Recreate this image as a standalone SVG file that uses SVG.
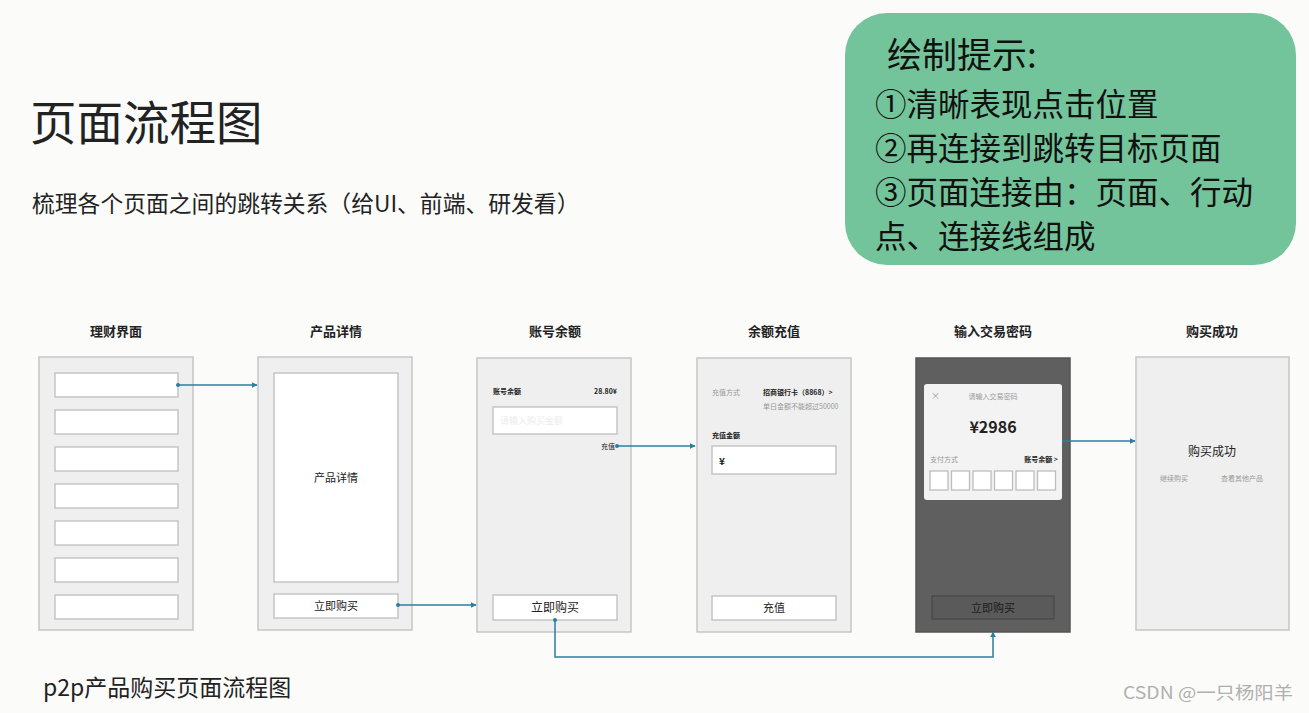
<svg xmlns="http://www.w3.org/2000/svg" width="1309" height="713" viewBox="0 0 1309 713">
<style>
text{font-family:"Noto Sans CJK SC","Liberation Sans",sans-serif;fill:#222}
.phone{fill:#efefef;stroke:#c6c6c6;stroke-width:1.5}
.box{fill:#fff;stroke:#bdbdbd;stroke-width:1.3}
.lbl{font-size:13px;font-weight:bold;text-anchor:middle}
.tiny{font-size:7px}
text.gray{fill:#999}
.conn{fill:none;stroke:#2a7fa0;stroke-width:1.5}
text.tip{font-size:31.5px;fill:#111}
text.faint{fill:#ececec}
text.wm{fill:#b0b0b0}
text.dk{fill:#1a1a1a}
</style>
<defs>
<marker id="ah" viewBox="0 0 10 10" refX="9" refY="5" markerWidth="6" markerHeight="6" orient="auto" markerUnits="userSpaceOnUse">
<path d="M0,0 L10,5 L0,10 z" fill="#2a7fa0"/>
</marker>
<marker id="dot" viewBox="0 0 4 4" refX="2" refY="2" markerWidth="4" markerHeight="4" markerUnits="userSpaceOnUse">
<circle cx="2" cy="2" r="2" fill="#2a7fa0"/>
</marker>
</defs>
<rect width="1309" height="713" fill="#fbfbfa"/>

<g id="title">
<text x="30" y="140" font-size="46.5">页面流程图</text>
<text x="32" y="212" font-size="22.8">梳理各个页面之间的跳转关系（给UI、前端、研发看）</text>
</g>

<g id="tips">
<rect x="845" y="13" width="451" height="252" rx="42" fill="#73c49b"/>
<text class="tip" x="887" y="68" style="font-size:35px">绘制提示:</text>
<text class="tip" x="875" y="116">①清晰表现点击位置</text>
<text class="tip" x="875" y="160">②再连接到跳转目标页面</text>
<text class="tip" x="875" y="204">③页面连接由：页面、行动</text>
<text class="tip" x="875" y="248">点、连接线组成</text>
</g>

<g id="page1">
<text class="lbl" x="116" y="336">理财界面</text>
<rect class="phone" x="39" y="357" width="154" height="273"/>
<rect class="box" x="55" y="373" width="123" height="24"/>
<rect class="box" x="55" y="410" width="123" height="24"/>
<rect class="box" x="55" y="447" width="123" height="24"/>
<rect class="box" x="55" y="484" width="123" height="24"/>
<rect class="box" x="55" y="521" width="123" height="24"/>
<rect class="box" x="55" y="558" width="123" height="24"/>
<rect class="box" x="55" y="595" width="123" height="24"/>
</g>

<g id="page2">
<text class="lbl" x="336" y="336">产品详情</text>
<rect class="phone" x="258" y="357" width="154" height="273"/>
<rect class="box" x="274" y="373" width="124" height="209"/>
<text x="336" y="482" font-size="11" text-anchor="middle">产品详情</text>
<rect class="box" x="274" y="594" width="124" height="24"/>
<text x="336" y="610" font-size="11" text-anchor="middle">立即购买</text>
</g>

<g id="page3">
<text class="lbl" x="555" y="336">账号余额</text>
<rect class="phone" x="477" y="358" width="154" height="274"/>
<text class="tiny" x="493" y="394" font-weight="bold">账号余额</text>
<text class="tiny" x="617" y="394" font-weight="bold" text-anchor="end">28.80¥</text>
<rect class="box" x="493" y="407" width="124" height="27"/>
<text class="faint" x="500" y="424" font-size="9">请输入购买金额</text>
<text class="tiny" x="615" y="449" text-anchor="end">充值</text>
<rect class="box" x="493" y="595" width="124" height="25"/>
<text x="555" y="612" font-size="12" text-anchor="middle">立即购买</text>
</g>

<g id="page4">
<text class="lbl" x="774" y="336">余额充值</text>
<rect class="phone" x="697" y="358" width="154" height="274"/>
<text class="tiny gray" x="712" y="395">充值方式</text>
<text class="tiny" x="763" y="395" font-weight="bold">招商银行卡（8868）&gt;</text>
<text class="tiny gray" x="763" y="409" font-size="6.5">单日金额不能超过50000</text>
<text class="tiny" x="712" y="438" font-weight="bold">充值金额</text>
<rect class="box" x="712" y="446" width="124" height="28"/>
<text x="719" y="465" font-size="10" font-weight="bold">¥</text>
<rect class="box" x="712" y="596" width="124" height="24"/>
<text x="774" y="612" font-size="11" text-anchor="middle">充值</text>
</g>

<g id="page5">
<text class="lbl" x="993" y="336">输入交易密码</text>
<rect x="916" y="358" width="154" height="274" fill="#5f5f5f" stroke="#555" stroke-width="1.5"/>
<rect x="924" y="384" width="138" height="116" rx="3" fill="#f3f3f3"/>
<text class="gray" x="931" y="399" font-size="9">×</text>
<text class="tiny gray" x="993" y="399" text-anchor="middle">请输入交易密码</text>
<text x="993" y="433" font-size="16" font-weight="bold" text-anchor="middle">¥2986</text>
<text class="tiny gray" x="930" y="462">支付方式</text>
<text class="tiny" x="1058" y="462" font-weight="bold" text-anchor="end">账号余额 &gt;</text>
<rect class="box" x="930" y="471" width="18" height="19"/>
<rect class="box" x="951.5" y="471" width="18" height="19"/>
<rect class="box" x="973" y="471" width="18" height="19"/>
<rect class="box" x="994.5" y="471" width="18" height="19"/>
<rect class="box" x="1016" y="471" width="18" height="19"/>
<rect class="box" x="1037.5" y="471" width="18" height="19"/>
<rect x="932" y="596" width="122" height="23" fill="#5a5a5a" stroke="#474747" stroke-width="1.2"/>
<text class="dk" x="993" y="612" font-size="11" text-anchor="middle">立即购买</text>
</g>

<g id="page6">
<text class="lbl" x="1212" y="336">购买成功</text>
<rect class="phone" x="1136" y="357" width="153" height="273"/>
<text x="1212" y="456" font-size="12" text-anchor="middle">购买成功</text>
<text class="tiny gray" x="1174" y="481" text-anchor="middle">继续购买</text>
<text class="tiny gray" x="1242" y="481" text-anchor="middle">查看其他产品</text>
</g>

<g id="connectors">
<path class="conn" d="M178,385 H257" marker-start="url(#dot)" marker-end="url(#ah)"/>
<path class="conn" d="M398,605 H476" marker-start="url(#dot)" marker-end="url(#ah)"/>
<path class="conn" d="M617,446 H695" marker-start="url(#dot)" marker-end="url(#ah)"/>
<path class="conn" d="M1062,441 H1135" marker-end="url(#ah)"/>
<path class="conn" d="M555,620 V657 H993 V632" marker-start="url(#dot)" marker-end="url(#ah)"/>
</g>

<g id="footer">
<text x="43" y="696" font-size="23">p2p产品购买页面流程图</text>
<text class="wm" x="1123" y="699" font-size="17" textLength="170" lengthAdjust="spacingAndGlyphs">CSDN @一只杨阳羊</text>
</g>
</svg>
